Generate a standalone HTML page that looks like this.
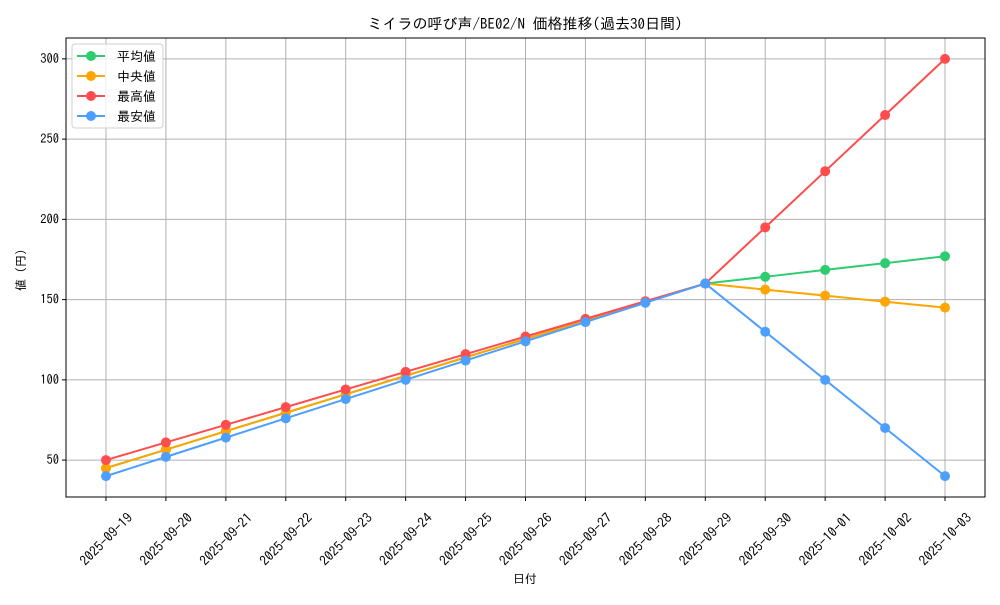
<!DOCTYPE html>
<html><head><meta charset="utf-8"><style>
html,body{margin:0;padding:0;background:#fff;}
svg text{font-family:"IPAGothic","Liberation Sans","Noto Sans CJK JP",sans-serif;fill:#000;}
</style></head><body>
<svg id="chart" width="1000" height="600" xmlns="http://www.w3.org/2000/svg">
<rect width="1000" height="600" fill="#fff"/>
<text x="525" y="29" font-size="15" text-anchor="middle">ミイラの呼び声/BE02/N 価格推移(過去30日間)</text>
<g id="grid"></g><g id="series"></g>
<rect x="66" y="38" width="919" height="459" fill="none" stroke="#000" stroke-width="1"/>
<g id="axes"></g>
<text x="525" y="583" font-size="12" text-anchor="middle">日付</text>
<text transform="translate(25,267) rotate(-90)" font-size="12" text-anchor="middle">値（円）</text>
<g id="legend"></g>
</svg>
<script>
const categories=["2025-09-19","2025-09-20","2025-09-21","2025-09-22","2025-09-23","2025-09-24","2025-09-25","2025-09-26","2025-09-27","2025-09-28","2025-09-29","2025-09-30","2025-10-01","2025-10-02","2025-10-03"];
const avgValues=[45,56.5,68,79.5,91,102.5,114,125.5,137,148.5,160,164.2,168.5,172.7,177];
const medianValues=[45,56.5,68,79.5,91,102.5,114,125.5,137,148.5,160,156.2,152.5,148.7,145];
const maxValues=[50,61,72,83,94,105,116,127,138,149,160,195,230,265,300];
const minValues=[40,52,64,76,88,100,112,124,136,148,160,130,100,70,40];
const yTicks=[50,100,150,200,250,300];
const seriesNames=["平均値","中央値","最高値","最安値"];
const NS="http://www.w3.org/2000/svg";
const X0=66,X1=985,Y0=38,Y1=497;
const allV=avgValues.concat(medianValues,maxValues,minValues);
const vmin=Math.min(...allV),vmax=Math.max(...allV),pad=(vmax-vmin)*0.05;
const ylo=vmin-pad,yhi=vmax+pad;
const n=categories.length,xpad=(X1-X0)*0.0435;
function xs(i){return X0+xpad+i*(X1-X0-2*xpad)/(n-1);}
function ys(v){return Y1-(v-ylo)/(yhi-ylo)*(Y1-Y0);}
function mk(t,a,p){const e=document.createElementNS(NS,t);for(const k in a)e.setAttribute(k,a[k]);(p||document.getElementById('chart')).appendChild(e);return e;}
const grid=document.getElementById('grid'),axes=document.getElementById('axes');
categories.forEach((c,i)=>{
 const x=xs(i);
 const g=mk('line',{x1:x,x2:x,y1:Y0,y2:Y1,stroke:'#b0b0b0','stroke-width':1},grid);
 
 
 const t=mk('line',{x1:x,x2:x,y1:Y1,y2:Y1+4,stroke:'#000'},axes);
 
 
 const cy=Y1+42;
 const l=mk('text',{x:x,y:cy,'font-size':13.5,'text-anchor':'middle','dominant-baseline':'central',transform:`rotate(-45 ${x} ${cy})`},axes);
 l.textContent=c;
 
 
});
yTicks.forEach(v=>{
 const y=ys(v);
 const g=mk('line',{x1:X0,x2:X1,y1:y,y2:y,stroke:'#b0b0b0','stroke-width':1},grid);
 
 
 const t=mk('line',{x1:X0-4,x2:X0,y1:y,y2:y,stroke:'#000'},axes);
 
 
 const l=mk('text',{x:X0-7,y:y+4,'font-size':12.5,'text-anchor':'end'},axes);
 l.textContent=v;
 
 
});
const colors=['#2ecc71','#ffa500','#ff4d4d','#4d9fff'];
const data=[avgValues,medianValues,maxValues,minValues];
const keys=['avg','median','max','min'];
const sg=document.getElementById('series');
data.forEach((arr,s)=>{
 const g=mk('g',{},sg);
 
 
 const pl=mk('polyline',{points:arr.map((v,i)=>xs(i)+','+ys(v)).join(' '),fill:'none',stroke:colors[s],'stroke-width':2},g);
 
 
 arr.forEach((v,i)=>{
  const c=mk('circle',{cx:xs(i),cy:ys(v),r:5,fill:colors[s]},g);
  
  
 });
});
const lg=document.getElementById('legend');
const box=mk('rect',{x:72,y:44,width:91,height:84,rx:3,fill:'#fff','fill-opacity':0.8,stroke:'#d0d0d0'},lg);


seriesNames.forEach((nm,s)=>{
 const y=56+s*20;
 const g=mk('g',{},lg);
 
 
 mk('line',{x1:77,x2:105,y1:y,y2:y,stroke:colors[s],'stroke-width':2},g);
 mk('circle',{cx:91,cy:y,r:5,fill:colors[s]},g);
 const t=mk('text',{x:117,y:y+5,'font-size':13},g);
 t.textContent=nm;
});
</script>
</body></html>
